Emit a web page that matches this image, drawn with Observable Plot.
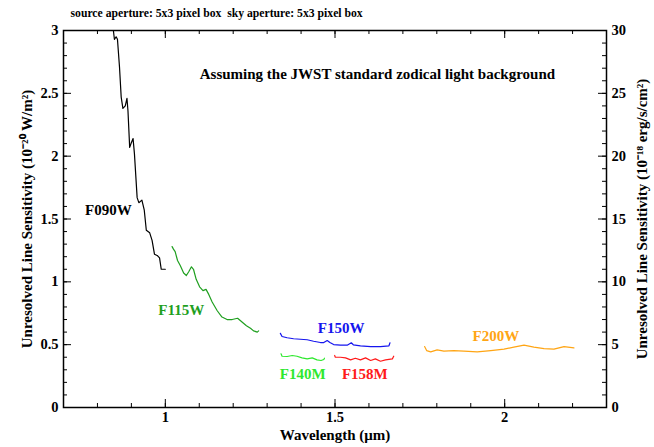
<!DOCTYPE html>
<html><head><meta charset="utf-8">
<script src="https://cdn.jsdelivr.net/npm/d3@7"></script>
<script src="https://cdn.jsdelivr.net/npm/@observablehq/plot@0.6"></script>
<style>body{margin:0;background:#fff}</style>
</head><body><div id="chart"></div>
<script>
// ---- data ----
const f090wX = [0.847,0.850,0.855,0.859,0.865,0.870,0.875,0.882,0.887,0.890,0.895,0.899,0.905,0.909,0.917,0.922,0.931,0.938,0.944,0.954,0.961,0.968,0.976,0.983,0.988,0.995,1.000];
const f090wY = [3.00,2.93,2.95,2.93,2.71,2.47,2.38,2.40,2.46,2.36,2.07,2.10,2.14,2.02,1.67,1.63,1.65,1.57,1.41,1.39,1.33,1.22,1.21,1.19,1.10,1.10,1.10];
const f115wX = [1.020,1.024,1.029,1.036,1.044,1.054,1.062,1.069,1.077,1.083,1.091,1.101,1.111,1.120,1.128,1.138,1.153,1.167,1.182,1.197,1.213,1.226,1.239,1.251,1.260,1.271,1.275];
const f115wY = [1.28,1.26,1.24,1.17,1.13,1.07,1.05,1.08,1.12,1.10,1.02,0.96,0.93,0.94,0.90,0.84,0.77,0.72,0.70,0.70,0.71,0.68,0.65,0.63,0.61,0.60,0.61];
const f150wX = [1.339,1.344,1.359,1.378,1.398,1.418,1.437,1.457,1.467,1.477,1.485,1.496,1.516,1.536,1.548,1.554,1.575,1.605,1.634,1.659,1.662];
const f150wY = [0.590,0.565,0.555,0.547,0.543,0.539,0.527,0.517,0.517,0.533,0.517,0.501,0.496,0.496,0.515,0.499,0.491,0.485,0.485,0.491,0.515];
const f140mX = [1.341,1.344,1.359,1.374,1.388,1.403,1.418,1.433,1.447,1.459,1.467,1.469];
const f140mY = [0.427,0.408,0.406,0.414,0.408,0.395,0.387,0.395,0.379,0.374,0.382,0.392];
const f158mX = [1.499,1.501,1.516,1.531,1.546,1.560,1.575,1.590,1.605,1.619,1.634,1.649,1.669,1.673];
const f158mY = [0.414,0.400,0.400,0.395,0.379,0.392,0.379,0.395,0.374,0.387,0.368,0.379,0.387,0.408];
const f200wX = [1.764,1.770,1.782,1.801,1.821,1.850,1.880,1.919,1.959,1.998,2.027,2.057,2.086,2.116,2.145,2.175,2.204];
const f200wY = [0.485,0.453,0.443,0.459,0.448,0.453,0.448,0.443,0.453,0.464,0.480,0.496,0.480,0.469,0.464,0.485,0.475];

const filterNames  = ["F090W","F115W","F150W","F140M","F158M","F200W"];
const filterColors = ["#000000","#1f9f1f","#1515ee","#2ee82e","#ff1a1a","#ffa514"];
const labelX = [0.832,1.047,1.518,1.405,1.588,1.974];
const labelY = [1.574,0.775,0.631,0.269,0.269,0.570];

const xTickLabels = [1, 1.5, 2];
const yTickLabels = [0, 0.5, 1, 1.5, 2, 2.5, 3];
const yRightTickLabels = [0, 5, 10, 15, 20, 25, 30];

const titleText = "source aperture: 5x3 pixel box \u00a0sky aperture: 5x3 pixel box";
const noteText = "Assuming the JWST standard zodical light background";
const xLabel = "Wavelength (\u03bcm)";
const yLabel = "Unresolved Line Sensitivity (10\u207b\u00b2\u2070 W/m\u00b2)";
const yRightLabel = "Unresolved Line Sensitivity (10\u207b\u00b9\u2078 erg/s/cm\u00b2)";

// ---- build table ----
const seriesX = [f090wX, f115wX, f150wX, f140mX, f158mX, f200wX];
const seriesY = [f090wY, f115wY, f150wY, f140mY, f158mY, f200wY];
const rows = [];
seriesX.forEach((xs, i) => xs.forEach((x, j) => rows.push({filter: filterNames[i], x, y: seriesY[i][j]})));
const labels = filterNames.map((f, i) => ({filter: f, x: labelX[i], y: labelY[i]}));

const X0 = 0.7, X1 = 2.3, Y0 = 0, Y1 = 3;
const xMinor = d3.range(7, 24).map(d => d / 10);
const xMajor = [1, 1.5, 2];
const yMinor = d3.range(0, 31).map(d => d / 10);
const yMajor = yTickLabels;

const W = 654, H = 447, mL = 63, mR = 48, mT = 30, mB = 40;
const pxX = (X1 - X0) / (W - mL - mR);
const pxY = (Y1 - Y0) / (H - mT - mB);
const majLen = 8, minLen = 4;

const font = "'Liberation Serif', 'Times New Roman', serif";

const chart = Plot.plot({
  width: W, height: H,
  marginLeft: mL, marginRight: mR, marginTop: mT, marginBottom: mB,
  style: {fontFamily: font, fontWeight: "bold", background: "#fff", color: "#000"},
  x: {domain: [X0, X1], axis: null},
  y: {domain: [Y0, Y1], axis: null},
  color: {domain: filterNames, range: filterColors},
  marks: [
    // ticks (inward)
    Plot.ruleX(xMinor, {x: d => d, y1: Y0, y2: Y0 + minLen * pxY, strokeWidth: 1}),
    Plot.ruleX(xMinor, {x: d => d, y1: Y1, y2: Y1 - minLen * pxY, strokeWidth: 1}),
    Plot.ruleX(xMajor, {x: d => d, y1: Y0, y2: Y0 + majLen * pxY, strokeWidth: 1}),
    Plot.ruleX(xMajor, {x: d => d, y1: Y1, y2: Y1 - majLen * pxY, strokeWidth: 1}),
    Plot.ruleY(yMinor, {y: d => d, x1: X0, x2: X0 + minLen * pxX, strokeWidth: 1}),
    Plot.ruleY(yMinor, {y: d => d, x1: X1, x2: X1 - minLen * pxX, strokeWidth: 1}),
    Plot.ruleY(yMajor, {y: d => d, x1: X0, x2: X0 + majLen * pxX, strokeWidth: 1}),
    Plot.ruleY(yMajor, {y: d => d, x1: X1, x2: X1 - majLen * pxX, strokeWidth: 1}),
    // curves
    Plot.line(rows, {x: "x", y: "y", z: "filter", stroke: "filter", strokeWidth: 1.2, clip: true}),
    // curve labels
    Plot.text(labels, {x: "x", y: "y", text: "filter", fill: "filter", fontSize: 15, fontWeight: "bold"}),
    // annotation
    Plot.text([noteText], {x: () => 1.625, y: () => 2.65, text: d => d, fontSize: 15, fontWeight: "bold"}),
    // tick labels
    Plot.text(xTickLabels, {x: d => d, frameAnchor: "bottom", dy: 10, lineAnchor: "middle", text: d => String(d), fontSize: 14.5}),
    Plot.text(yTickLabels, {y: d => d, frameAnchor: "left", dx: -5, textAnchor: "end", text: d => String(d), fontSize: 14.5}),
    Plot.text(yRightTickLabels, {y: d => d / 10, frameAnchor: "right", dx: 5, textAnchor: "start", text: d => String(d), fontSize: 14.5}),
    // axis titles
    Plot.text([xLabel], {frameAnchor: "bottom", dy: 28, lineAnchor: "middle", text: d => d, fontSize: 15}),
    Plot.text([yLabel], {frameAnchor: "left", dx: -36, rotate: -90, textAnchor: "middle", lineAnchor: "middle", text: d => d, fontSize: 15}),
    Plot.text([yRightLabel], {frameAnchor: "right", dx: 36, rotate: -90, textAnchor: "middle", lineAnchor: "middle", text: d => d, fontSize: 15}),
    // title
    Plot.text([titleText], {frameAnchor: "top-left", dx: 7, dy: -17, textAnchor: "start", lineAnchor: "middle", text: d => d, fontSize: 11.7}),
    Plot.frame({strokeWidth: 1.5})
  ]
});
document.getElementById("chart").appendChild(chart);
</script>
</body></html>
